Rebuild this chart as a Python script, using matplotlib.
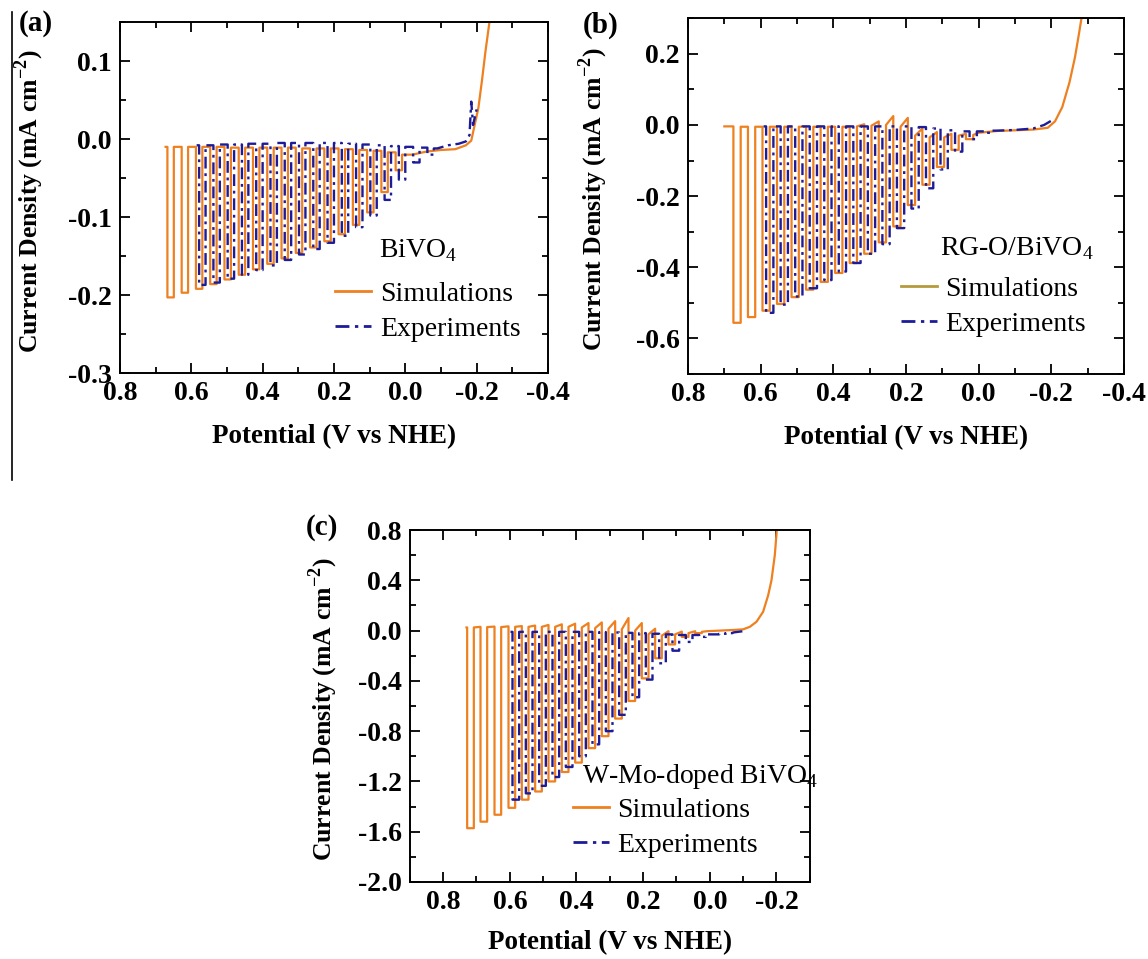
import matplotlib
matplotlib.use("Agg")
import matplotlib.pyplot as plt
from matplotlib.lines import Line2D
from matplotlib.ticker import MultipleLocator

plt.rcParams['font.family'] = ['Liberation Serif', 'DejaVu Serif']
plt.rcParams['mathtext.fontset'] = 'custom'
plt.rcParams['mathtext.rm'] = 'Liberation Serif'
plt.rcParams['mathtext.bf'] = 'Liberation Serif:bold'
plt.rcParams['axes.unicode_minus'] = False

SIM_COLOR = '#ee8020'
EXP_COLOR = '#1c1c98'

# ---------------- (a) BiVO4 ----------------
a_sim_start = (0.672, -0.010)
a_sim_on = [0.667, 0.627, 0.587, 0.547, 0.507, 0.467, 0.427, 0.387, 0.347,
            0.307, 0.267, 0.227, 0.187, 0.147, 0.107, 0.067, 0.027]
a_sim_light = [-0.203, -0.197, -0.192, -0.186, -0.180, -0.174, -0.167, -0.160, -0.153,
               -0.146, -0.139, -0.131, -0.122, -0.110, -0.094, -0.068, -0.040]
a_sim_dark = [-0.010, -0.010, -0.010, -0.010, -0.011, -0.011, -0.011, -0.011, -0.011,
              -0.012, -0.012, -0.012, -0.013, -0.014, -0.015, -0.017, -0.020]
a_sim_tail_x = [-0.02, -0.06, -0.10, -0.14, -0.17, -0.185, -0.195, -0.205, -0.215, -0.225, -0.236]
a_sim_tail_j = [-0.020, -0.016, -0.014, -0.013, -0.008, -0.002, 0.019, 0.040, 0.075, 0.113, 0.150]

a_exp_start = (0.585, -0.008)
a_exp_on = [0.578, 0.538, 0.498, 0.458, 0.418, 0.378, 0.338, 0.298, 0.258,
            0.218, 0.178, 0.138, 0.098, 0.058, 0.018, -0.022, -0.062]
a_exp_light = [-0.187, -0.184, -0.179, -0.174, -0.168, -0.162, -0.155, -0.148, -0.141,
               -0.133, -0.124, -0.113, -0.098, -0.078, -0.052, -0.030, -0.020]
a_exp_dark = [-0.008, -0.007, -0.007, -0.006, -0.006, -0.005, -0.005, -0.005, -0.005,
              -0.005, -0.006, -0.007, -0.008, -0.009, -0.010, -0.011, -0.012]
a_exp_tail_x = [-0.09, -0.12, -0.15, -0.17, -0.18, -0.185, -0.19, -0.20]
a_exp_tail_j = [-0.012, -0.008, -0.006, -0.003, 0.005, 0.048, 0.018, 0.038]

# ---------------- (b) RG-O/BiVO4 ----------------
b_sim_start = (0.700, -0.004)
b_sim_on = [0.675, 0.635, 0.595, 0.555, 0.515, 0.475, 0.435, 0.395, 0.355,
            0.315, 0.275, 0.235, 0.195, 0.155, 0.115, 0.075, 0.035]
b_sim_light = [-0.556, -0.540, -0.522, -0.503, -0.484, -0.463, -0.441, -0.416, -0.388,
               -0.362, -0.330, -0.285, -0.225, -0.168, -0.118, -0.070, -0.040]
b_sim_dark0 = [-0.005, -0.005, -0.005, -0.005, -0.005, -0.005, -0.005, -0.005, -0.004,
               -0.002, 0.000, -0.005, -0.030, -0.035, -0.035, -0.030, -0.028]
b_sim_dark1 = [-0.005, -0.005, -0.005, -0.005, -0.005, -0.005, -0.005, -0.005, 0.002,
               0.010, 0.025, 0.020, -0.010, -0.020, -0.025, -0.025, -0.025]
b_sim_tail_x = [0.0, -0.05, -0.10, -0.15, -0.19, -0.21, -0.23, -0.25, -0.265, -0.275, -0.283]
b_sim_tail_j = [-0.022, -0.017, -0.015, -0.013, -0.008, 0.010, 0.050, 0.120, 0.190, 0.250, 0.300]

b_exp_start = (0.592, -0.004)
b_exp_on = [0.585, 0.545, 0.505, 0.465, 0.425, 0.385, 0.345, 0.305, 0.265,
            0.225, 0.185, 0.145, 0.105, 0.065, 0.025, -0.015]
b_exp_light = [-0.528, -0.505, -0.482, -0.459, -0.436, -0.412, -0.388, -0.362, -0.335,
               -0.290, -0.235, -0.178, -0.125, -0.075, -0.040, -0.022]
b_exp_dark = [-0.004, -0.004, -0.004, -0.004, -0.004, -0.004, -0.004, -0.004, -0.004,
              -0.004, -0.006, -0.010, -0.015, -0.018, -0.018, -0.016]
b_exp_tail_x = [-0.05, -0.10, -0.15, -0.18, -0.20, -0.21]
b_exp_tail_j = [-0.016, -0.014, -0.010, 0.000, 0.012, 0.008]

# ---------------- (c) W-Mo-doped BiVO4 ----------------
c_sim_start = (0.730, 0.025)
c_sim_on = [0.728, 0.688, 0.646, 0.604, 0.564, 0.524, 0.484, 0.444, 0.404,
            0.364, 0.324, 0.284, 0.244, 0.204, 0.164, 0.124, 0.084, 0.044]
c_sim_light = [-1.572, -1.520, -1.465, -1.410, -1.345, -1.280, -1.200, -1.125, -1.050,
               -0.935, -0.840, -0.700, -0.560, -0.380, -0.220, -0.110, -0.050, -0.020]
c_sim_dark0 = [0.025, 0.028, 0.028, 0.030, 0.030, 0.030, 0.030, 0.030, 0.025,
               0.020, 0.015, 0.010, 0.000, -0.030, -0.040, -0.030, -0.020, -0.010]
c_sim_dark1 = [0.030, 0.032, 0.034, 0.036, 0.040, 0.045, 0.050, 0.055, 0.060,
               0.065, 0.075, 0.100, 0.060, 0.015, -0.005, -0.008, -0.005, -0.003]
c_sim_tail_x = [0.01, -0.03, -0.07, -0.10, -0.12, -0.14, -0.16, -0.175, -0.185, -0.195, -0.201]
c_sim_tail_j = [-0.005, 0.000, 0.005, 0.010, 0.030, 0.070, 0.150, 0.280, 0.400, 0.600, 0.800]

c_exp_start = (0.598, -0.010)
c_exp_on = [0.592, 0.552, 0.512, 0.472, 0.432, 0.392, 0.352, 0.312, 0.272,
            0.232, 0.192, 0.152, 0.112, 0.072, 0.032, -0.008, -0.048]
c_exp_light = [-1.345, -1.295, -1.235, -1.165, -1.085, -1.000, -0.905, -0.800, -0.670,
               -0.530, -0.390, -0.260, -0.160, -0.090, -0.050, -0.030, -0.020]
c_exp_dark = [-0.010, -0.010, -0.010, -0.010, -0.010, -0.010, -0.012, -0.015, -0.018,
              -0.020, -0.025, -0.030, -0.035, -0.035, -0.030, -0.025, -0.020]
c_exp_tail_x = [-0.07, -0.09, -0.10]
c_exp_tail_j = [-0.015, -0.008, -0.005]


def chopped(start, x_on, light, dark0, dark1, w, tail_x, tail_j):
    # light on at x_on[i] for a window w, then dark until the next chop
    xs, js = [start[0]], [start[1]]
    prev = start[1]
    for i in range(len(x_on)):
        xs += [x_on[i], x_on[i], x_on[i] - w, x_on[i] - w]
        js += [prev, light[i], light[i], dark0[i]]
        prev = dark1[i]
    return xs + list(tail_x), js + list(tail_j)


def style_axes(ax, xlim, ylim, xmaj, ymaj, ylab_x, xpad):
    ax.set_xlim(*xlim)
    ax.set_ylim(*ylim)
    ax.xaxis.set_major_locator(MultipleLocator(xmaj))
    ax.xaxis.set_minor_locator(MultipleLocator(xmaj / 2))
    ax.yaxis.set_major_locator(MultipleLocator(ymaj))
    ax.yaxis.set_minor_locator(MultipleLocator(ymaj / 2))
    ax.tick_params(which='both', direction='in', top=True, right=True, width=1.3)
    ax.tick_params(which='major', length=7, labelsize=20, pad=6)
    ax.tick_params(which='minor', length=4)
    for lab in ax.get_xticklabels() + ax.get_yticklabels():
        lab.set_fontweight('bold')
    for s in ax.spines.values():
        s.set_linewidth(1.4)
    ax.set_xlabel('Potential (V vs NHE)', fontsize=19.5, fontweight='bold', labelpad=xpad)
    ax.set_ylabel('Current Density (mA cm$^{\\mathbf{-2}}$)', fontsize=18.5,
                  fontweight='bold')
    ax.yaxis.set_label_coords(ylab_x, 0.49)


def add_legend(ax, title, tx, ty, loc_xy, sim_color):
    ax.text(tx, ty, title, transform=ax.transAxes, fontsize=20, va='center', ha='left')
    handles = [Line2D([], [], color=sim_color, lw=2),
               Line2D([], [], color=EXP_COLOR, lw=2, ls=(0, (5, 2, 1.2, 2)))]
    ax.legend(handles, ['Simulations', 'Experiments'], loc='lower right',
              bbox_to_anchor=loc_xy, frameon=False, fontsize=20,
              handlelength=1.3, handletextpad=0.3, labelspacing=0.34, borderpad=0)


fig = plt.figure(figsize=(11.48, 9.59), dpi=100)
ax_a = fig.add_axes([0.1045, 0.611, 0.3728, 0.366])
ax_b = fig.add_axes([0.5993, 0.610, 0.3798, 0.371])
ax_c = fig.add_axes([0.357, 0.0803, 0.3484, 0.367])

dash = (0, (5, 2, 1.2, 2))

x, j = chopped(a_sim_start, a_sim_on, a_sim_light, a_sim_dark, a_sim_dark, 0.018, a_sim_tail_x, a_sim_tail_j)
ax_a.plot(x, j, color=SIM_COLOR, lw=1.6)
x, j = chopped(a_exp_start, a_exp_on, a_exp_light, a_exp_dark, a_exp_dark, 0.018, a_exp_tail_x, a_exp_tail_j)
ax_a.plot(x, j, color=EXP_COLOR, lw=1.7, ls=dash)
style_axes(ax_a, (0.8, -0.4), (-0.3, 0.15), 0.2, 0.1, -0.172, 13)
add_legend(ax_a, 'BiVO$_4$', 0.606, 0.35, (0.968, 0.05), SIM_COLOR)

x, j = chopped(b_sim_start, b_sim_on, b_sim_light, b_sim_dark0, b_sim_dark1, 0.02, b_sim_tail_x, b_sim_tail_j)
ax_b.plot(x, j, color=SIM_COLOR, lw=1.6)
x, j = chopped(b_exp_start, b_exp_on, b_exp_light, b_exp_dark, b_exp_dark, 0.02, b_exp_tail_x, b_exp_tail_j)
ax_b.plot(x, j, color=EXP_COLOR, lw=1.7, ls=dash)
style_axes(ax_b, (0.8, -0.4), (-0.7, 0.3), 0.2, 0.2, -0.18, 13)
add_legend(ax_b, 'RG-O/BiVO$_4$', 0.579, 0.352, (0.945, 0.065), '#b59a3c')

x, j = chopped(c_sim_start, c_sim_on, c_sim_light, c_sim_dark0, c_sim_dark1, 0.02, c_sim_tail_x, c_sim_tail_j)
ax_c.plot(x, j, color=SIM_COLOR, lw=1.6)
x, j = chopped(c_exp_start, c_exp_on, c_exp_light, c_exp_dark, c_exp_dark, 0.02, c_exp_tail_x, c_exp_tail_j)
ax_c.plot(x, j, color=EXP_COLOR, lw=1.7, ls=dash)
style_axes(ax_c, (0.9, -0.3), (-2.0, 0.8), 0.2, 0.4, -0.175, 11)
add_legend(ax_c, 'W-Mo-doped BiVO$_4$', 0.43, 0.30, (0.905, 0.03), SIM_COLOR)

fig.text(0.016, 0.976, '(a)', fontsize=21, fontweight='bold', va='center')
fig.text(0.508, 0.974, '(b)', fontsize=21, fontweight='bold', va='center')
fig.text(0.266, 0.450, '(c)', fontsize=21, fontweight='bold', va='center')
fig.add_artist(Line2D([0.0105, 0.0105], [0.987, 0.5], color='black', lw=1.2))

fig.savefig('out.png', dpi=100)
